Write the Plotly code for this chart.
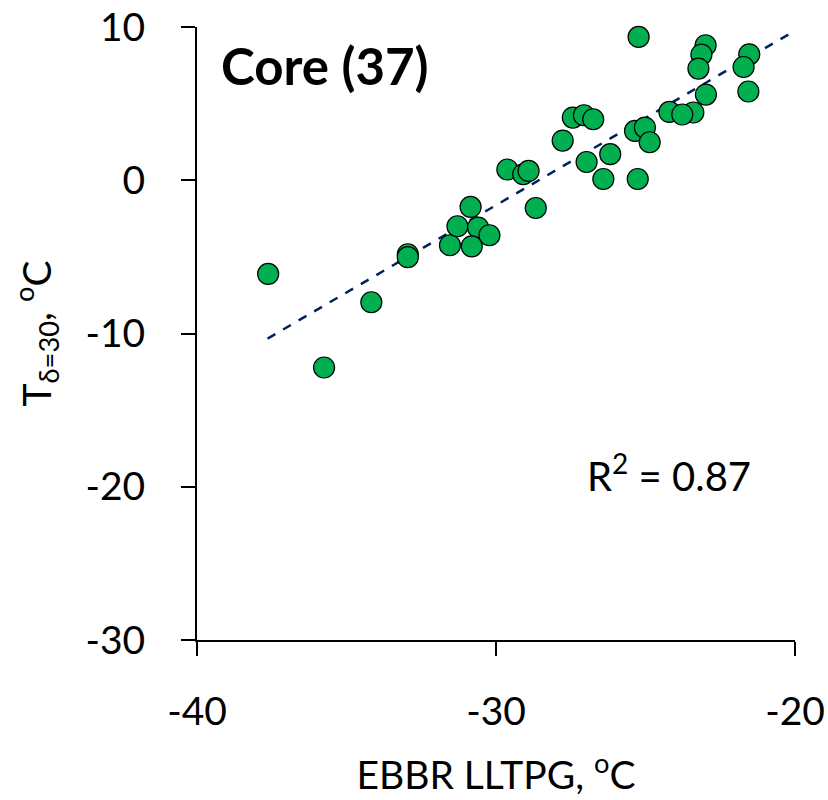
import numpy as np
import plotly.graph_objects as go

# Data
ebbr_lltpg = [-37.62, -35.75, -34.17, -32.95, -32.95, -31.54, -31.29, -30.85, -30.60, -30.22,
              -30.81, -28.67, -25.23, -22.99, -23.13, -23.23, -21.53, -21.72, -21.56, -22.98,
              -24.20, -23.40, -23.77, -27.43, -27.06, -26.75, -27.77, -25.35, -25.02, -24.86,
              -26.18, -26.97, -26.41, -25.26, -29.62, -29.09, -28.91]
t_delta30 = [-6.11, -12.22, -7.96, -4.83, -5.02, -4.24, -3.00, -1.74, -3.09, -3.59,
             -4.31, -1.81, 9.35, 8.81, 8.20, 7.29, 8.22, 7.39, 5.79, 5.59,
             4.46, 4.42, 4.29, 4.09, 4.24, 3.98, 2.59, 3.22, 3.44, 2.48,
             1.70, 1.19, 0.08, 0.08, 0.70, 0.39, 0.61]

trend_slope = 1.139
trend_intercept = 32.54
trend_x = [-37.64, -20.11]
r_squared = 0.87
panel_label = "Core (37)"

x_ticks = [-40, -30, -20]
y_ticks = [-30, -20, -10, 0, 10]

FONT = "Lato"

trend_y = [trend_slope * x + trend_intercept for x in trend_x]

fig = go.Figure()
fig.add_trace(go.Scatter(
    x=trend_x, y=trend_y, mode="lines",
    line=dict(color="#002060", width=2.5, dash="dash"),
    showlegend=False, hoverinfo="skip"))
fig.add_trace(go.Scatter(
    x=ebbr_lltpg, y=t_delta30, mode="markers",
    marker=dict(size=21, color="#00B050", line=dict(color="black", width=1.2)),
    showlegend=False, cliponaxis=False))

fig.update_layout(
    width=828, height=800,
    margin=dict(l=197, r=33, t=27, b=160),
    paper_bgcolor="white", plot_bgcolor="white",
    font=dict(family=FONT, color="black", size=39),
    xaxis=dict(
        range=[-40, -20], tickvals=x_ticks, ticktext=[str(v) for v in x_ticks],
        showgrid=False, zeroline=False, showline=True, linecolor="black", linewidth=2,
        ticks="outside", ticklen=14, tickwidth=2, tickcolor="black",
        tickfont=dict(size=39, family=FONT), ticklabelstandoff=22, automargin=False,
        title=dict(text="EBBR LLTPG, <sup>o</sup>C", font=dict(size=39, family=FONT), standoff=30),
    ),
    yaxis=dict(
        range=[-30, 10], tickvals=y_ticks, ticktext=[str(v) for v in y_ticks],
        showgrid=False, zeroline=False, showline=True, linecolor="black", linewidth=2,
        ticks="outside", ticklen=14, tickwidth=2, tickcolor="black",
        tickfont=dict(size=39, family=FONT), ticklabelstandoff=28, automargin=False,
        title=dict(text="T<sub>δ=30</sub>, <sup>o</sup>C", font=dict(size=39, family=FONT), standoff=22),
    ),
    annotations=[
        dict(text="<b>" + panel_label + "</b>", xref="paper", yref="paper",
             x=0.036, y=0.937, xanchor="left", yanchor="middle", showarrow=False,
             font=dict(size=51, family=FONT)),
        dict(text="R<sup>2</sup> = " + f"{r_squared:.2f}", xref="paper", yref="paper",
             x=0.93, y=0.272, xanchor="right", yanchor="middle", showarrow=False,
             font=dict(size=40, family=FONT)),
    ],
)

fig.write_html("out.html")
